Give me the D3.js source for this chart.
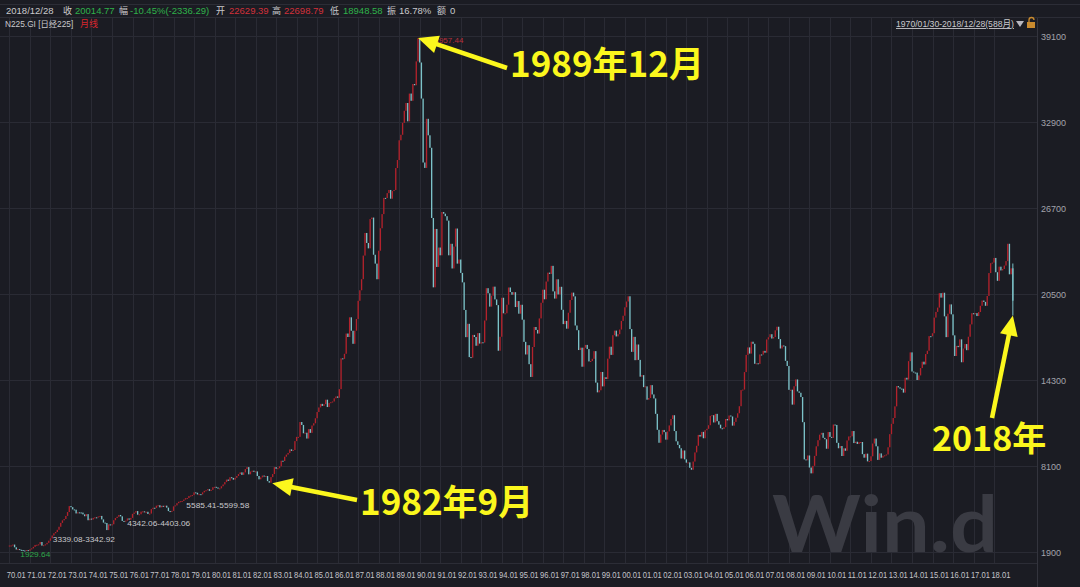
<!DOCTYPE html>
<html><head><meta charset="utf-8">
<script src="https://cdn.jsdelivr.net/npm/d3@7/dist/d3.min.js"></script>
<style>body{margin:0;background:#1b1c23;overflow:hidden}svg{display:block}</style>
</head><body>
<svg id="c" width="1080" height="587"></svg>
<script>
// ---------------- data ----------------
const startYear = 1970;
const xTickLabels = ["70.01","71.01","72.01","73.01","74.01","75.01","76.01","77.01","78.01","79.01",
 "80.01","81.01","82.01","83.01","84.01","85.01","86.01","87.01","88.01","89.01",
 "90.01","91.01","92.01","93.01","94.01","95.01","96.01","97.01","98.01","99.01",
 "00.01","01.01","02.01","03.01","04.01","05.01","06.01","07.01","08.01","09.01",
 "10.01","11.01","12.01","13.01","14.01","15.01","16.01","17.01","18.01"];
const yTicks = [1900, 8100, 14300, 20500, 26700, 32900, 39100];
const firstOpen = 2358;
// monthly closes, Jan..Dec per row
const closes = [
 2367,2370,2435,2240,2080,2110,2060,2040,2010,2000,2035,1987, // 1970
 2090,2160,2270,2410,2420,2450,2620,2360,2390,2450,2560,2714, // 1971
 2880,3090,3250,3340,3500,3720,4000,4180,4280,4500,4780,5208, // 1972
 5130,4970,4950,4680,4760,4750,4740,4610,4480,4630,4190,4307, // 1973
 4240,4360,4400,4390,4460,4500,4250,4020,3990,3480,3890,3817, // 1974
 3900,4190,4350,4440,4570,4470,4140,4110,4160,4320,4230,4359, // 1975
 4650,4740,4850,4590,4620,4810,4830,4770,4800,4640,4670,4991, // 1976
 5090,5080,5240,5270,5120,5230,5200,5240,5100,4850,4810,4866, // 1977
 5190,5260,5420,5520,5560,5580,5680,5780,5790,5940,5970,6002, // 1978
 6200,6170,6050,6070,6050,6200,6310,6350,6430,6310,6380,6570, // 1979
 6600,6550,6470,6490,6640,6770,6940,7120,7030,7290,7240,7116, // 1980
 7250,7380,7520,7640,7460,7640,7880,8019,7500,7700,7760,7682, // 1981
 7710,7380,7140,7280,7410,7360,7380,7010,6900,7300,7520,8017, // 1982
 7900,7940,8080,8480,8460,8770,8920,9040,9300,9190,9250,9894, // 1983
 10200,10200,11270,11060,10460,10500,10080,10760,10490,11020,11180,11543, // 1984
 11990,12320,12580,12430,12560,12880,12350,12650,12700,12750,12980,13113, // 1985
 13020,13640,15860,15825,16190,17650,17400,18820,17850,16910,17852,18701, // 1986
 20010,20770,21570,23270,24900,24180,23790,25900,26010,23330,22690,21564, // 1987
 23620,25240,26260,27430,27420,27770,28000,27370,27920,28000,29580,30159, // 1988
 31580,31980,32840,33710,34270,32950,34950,34430,35640,35550,37270,38916, // 1989
 37190,34590,29980,29590,33130,31940,31040,25980,20980,25190,22450,23849, // 1990
 23290,26410,26290,26110,25790,23290,24120,22340,23920,25220,22690,22984, // 1991
 22020,21340,19350,17390,18350,15950,15910,17550,17400,16770,17680,16925, // 1992
 17020,17000,18590,20920,20550,19590,20380,21030,20110,19700,16410,17417, // 1993
 20230,19110,19110,19730,20970,20640,20450,20630,19560,19990,19080,19723, // 1994
 18650,17050,16140,16810,15440,14520,16680,18120,17910,17650,18740,19868, // 1995
 20810,20120,21400,22040,21950,22530,20690,20170,21560,20470,21020,19361, // 1996
 18330,18560,18000,19150,20070,20600,20330,18230,17890,16460,16630,15259, // 1997
 16630,16830,16530,15640,15670,15830,16380,14110,13410,13560,14880,13842, // 1998
 14500,14370,15840,16700,16110,17530,17860,17440,17600,17940,18560,18934, // 1999
 19540,19960,20337,17970,16330,17410,15730,16860,15750,14540,14650,13786, // 2000
 13840,12880,13000,13930,13260,12970,11860,10710,9775,10370,10700,10543, // 2001
 10000,10590,11025,11490,11760,10620,9880,9620,9380,8640,9220,8579, // 2002
 8340,8360,7970,7830,8420,9080,9560,10340,10220,10560,10100,10677, // 2003
 10780,11040,11715,11760,11240,11860,11330,11080,10820,10770,10900,11489, // 2004
 11390,11740,11670,11010,11280,11580,11900,12410,13570,13610,14870,16111, // 2005
 16650,16205,17060,16910,15470,15505,15460,16140,16130,16400,16270,17226, // 2006
 17380,17600,17290,17400,17880,18140,17250,16570,16790,16740,15680,15308, // 2007
 13590,13600,12525,13850,14340,13480,13380,13070,11260,8577,8510,8860, // 2008
 7990,7570,8110,8830,9520,9960,10360,10490,10130,10030,9345,10546, // 2009
 10200,10130,11090,11060,9770,9380,9540,8820,9370,9200,9940,10229, // 2010
 10240,10620,9755,9850,9690,9820,9830,8955,8700,8990,8435,8455, // 2011
 8800,9720,10080,9520,8540,9010,8700,8840,8870,8930,9450,10395, // 2012
 11140,11560,12400,13860,13770,13680,13670,13390,14460,14330,15660,16291, // 2013
 14910,14840,14830,14300,14630,15160,15620,15420,16170,16410,17460,17451, // 2014
 17670,18800,19210,19520,20560,20240,20590,18890,17390,19080,19750,19034, // 2015
 17520,16030,16760,16670,17230,15580,16570,16890,16450,17420,18310,19114, // 2016
 19040,19120,18910,19200,19650,20030,19930,19650,20360,22010,22720,22765, // 2017
 23100,22070,21450,22470,22200,22300,22550,22870,24120,21920,22351,20015  // 2018
];
const peakHigh = 38957.44, lastLow = 18948.58, lastHigh = 22698.79;
const headerItems = [
 ["2018/12/28","#c9c9cc"],["收","#c9c9cc"],["20014.77","#2fb24a"],["幅","#c9c9cc"],
 ["-10.45%(-2336.29)","#2fb24a"],["开","#c9c9cc"],["22629.39","#d2303a"],["高","#c9c9cc"],
 ["22698.79","#d2303a"],["低","#c9c9cc"],["18948.58","#2fb24a"],["振","#c9c9cc"],
 ["16.78%","#c9c9cc"],["额","#c9c9cc"],["0","#c9c9cc"]];
const headerX = [6,63,75,119,130,216,229,272,284,330,343,387,399,437,450];
const gapLabels = [
 {text:"1929.64", m:4, v:1929.64, color:"#2fa84a", dx:4, dy:5, w:30},
 {text:"3339.08-3342.92", m:57, v:3341, color:"#c8c8cc", dx:-54, dy:10, w:62},
 {text:"4342.06-4403.06", m:66, v:4370, color:"#c8c8cc", dx:5, dy:8, w:63},
 {text:"5585.41-5599.58", m:100, v:5590, color:"#c8c8cc", dx:6, dy:7, w:63}
];
const notes = [
 {text:"1989年12月", m:239, v:peakHigh, tx:507, ty:68, lx:510, ly:77, fs:35},
 {text:"1982年9月", m:152, v:6850, tx:357, ty:500, lx:360, ly:515, fs:35},
 {text:"2018年", m:587, v:lastLow, tx:992, ty:418, lx:932, ly:451, fs:34}
];

// ---------------- drawing ----------------
const W = 1080, H = 587;
const svg = d3.select("#c");
const bg = "#1b1c23", grid = "#2a2b34";
svg.append("rect").attr("width", W).attr("height", H).attr("fill", bg);

const n = closes.length;
const x = d3.scaleBand().domain(d3.range(n)).range([8.4, 1013.9]).padding(0.22);
const y = d3.scaleLinear().domain([1900, 39100]).range([552, 36]);
const cx = m => x(m) + x.bandwidth() / 2;

const plotRight = 1037, plotTop = 18, plotBottom = 563;
const uiFont = "'Liberation Sans', 'Noto Sans CJK SC', sans-serif";

// header lines
svg.append("line").attr("x1",0).attr("x2",W).attr("y1",4.5).attr("y2",4.5).attr("stroke","#2c2d36");
svg.append("line").attr("x1",0).attr("x2",W).attr("y1",17.5).attr("y2",17.5).attr("stroke","#2c2d36");

// grid
const gridG = svg.append("g");
gridG.selectAll("line.h").data(yTicks).join("line")
  .attr("x1", 0).attr("x2", plotRight).attr("y1", d => Math.round(y(d)) + 0.5).attr("y2", d => Math.round(y(d)) + 0.5)
  .attr("stroke", grid).attr("stroke-width", 1);
const janMonths = d3.range(0, n, 12);
gridG.selectAll("line.v").data(janMonths).join("line")
  .attr("x1", d => Math.round(cx(d)) + 0.5).attr("x2", d => Math.round(cx(d)) + 0.5)
  .attr("y1", plotTop).attr("y2", plotBottom).attr("stroke", grid);
svg.append("line").attr("x1", plotRight + 0.5).attr("x2", plotRight + 0.5).attr("y1", plotTop).attr("y2", H)
  .attr("stroke", "#33343d");
svg.append("line").attr("x1", 0).attr("x2", plotRight).attr("y1", plotBottom + 0.5).attr("y2", plotBottom + 0.5)
  .attr("stroke", "#2c2d36");

// watermark
svg.append("text").attr("x", 772).attr("y", 552).text("Win.d")
  .attr("font-family", "Lato, 'Open Sans', sans-serif").attr("font-weight", 700)
  .attr("font-size", 78).attr("fill", "#3a3b43").attr("textLength", 226).attr("lengthAdjust", "spacingAndGlyphs");

// y axis labels
const yAxis = d3.axisRight(y).tickValues(yTicks).tickSize(0).tickPadding(0).tickFormat(d3.format("d"));
const ya = svg.append("g").attr("transform", `translate(1041,0)`).call(yAxis);
ya.select(".domain").remove();
ya.selectAll("text").attr("fill", "#a3a3ab").attr("font-size", 9)
  .attr("font-family", "'Liberation Sans', Arial, sans-serif").attr("dy", "0.35em");

// x axis labels
const xAxis = d3.axisBottom(x).tickValues(janMonths).tickSize(0).tickPadding(0)
  .tickFormat((d, i) => xTickLabels[i]);
const xa = svg.append("g").attr("transform", `translate(0,572)`).call(xAxis);
xa.select(".domain").remove();
xa.selectAll(".tick text").attr("fill", "#c4c4ca").attr("font-size", 8.6)
  .attr("font-family", "'Liberation Sans', Arial, sans-serif")
  .attr("text-anchor", "start").attr("x", -x.bandwidth()/2 - 2).attr("dy", "0.71em")
  .attr("textLength", 19).attr("lengthAdjust", "spacingAndGlyphs");

// candles
const candles = closes.map((c, i) => ({ m: i, o: i === 0 ? firstOpen : closes[i - 1], c }));
const upC = "#b3222c", dnC = "#7cc3c9";
svg.append("g").selectAll("rect").data(candles).join("rect")
  .attr("x", d => x(d.m)).attr("width", x.bandwidth())
  .attr("y", d => y(Math.max(d.o, d.c)))
  .attr("height", d => Math.max(1, Math.abs(y(d.o) - y(d.c))))
  .attr("fill", d => d.c >= d.o ? upC : dnC);
// wicks to the extreme high / low that are marked in the picture
svg.append("line").attr("x1", cx(239)).attr("x2", cx(239)).attr("y1", y(peakHigh)).attr("y2", y(closes[239]))
  .attr("stroke", upC).attr("stroke-width", 1);
svg.append("line").attr("x1", cx(n-1)).attr("x2", cx(n-1)).attr("y1", y(lastHigh)).attr("y2", y(lastLow))
  .attr("stroke", dnC).attr("stroke-width", 1);

// small value labels
svg.append("g").selectAll("text").data(gapLabels).join("text")
  .attr("x", d => cx(d.m) + d.dx).attr("y", d => y(d.v) + d.dy).text(d => d.text)
  .attr("fill", d => d.color).attr("font-size", 8).attr("font-family", "'Liberation Sans', Arial, sans-serif")
  .attr("textLength", d => d.w).attr("lengthAdjust", "spacingAndGlyphs");
svg.append("text").attr("x", cx(239) + 12).attr("y", y(peakHigh) + 5).text("38957.44")
  .attr("fill", "#b8303c").attr("font-size", 8).attr("font-family", "'Liberation Sans', Arial, sans-serif");

// header texts
svg.append("g").selectAll("text").data(headerItems).join("text")
  .attr("x", (d, i) => headerX[i]).attr("y", 14).text(d => d[0]).attr("fill", d => d[1])
  .attr("font-size", d => /^[\u4e00-\u9fff]$/.test(d[0]) ? 9 : 9.5).attr("font-family", uiFont);
svg.append("text").attr("x", 5).attr("y", 27).text("N225.GI [日经225]").attr("fill", "#c9c9cc")
  .attr("font-size", 8.3).attr("font-family", uiFont);
svg.append("text").attr("x", 80).attr("y", 27).text("月线").attr("fill", "#d8262e")
  .attr("font-size", 9).attr("font-family", "'Noto Sans CJK SC', sans-serif");
svg.append("text").attr("x", 896).attr("y", 27).text("1970/01/30-2018/12/28(588月)").attr("fill", "#c9c9cc")
  .attr("font-size", 9).attr("font-family", uiFont)
  .attr("text-decoration", "underline").attr("textLength", 118).attr("lengthAdjust", "spacingAndGlyphs");
svg.append("path").attr("d", "M1016,21 L1024,21 L1020,27 Z").attr("fill", "#b8b8c0");
svg.append("rect").attr("x", 1027).attr("y", 22).attr("width", 8).attr("height", 6).attr("fill", "#c98a2e");
svg.append("path").attr("d", "M1029,22 v-2 a2.5,2.5 0 0 1 5,0").attr("fill", "none").attr("stroke", "#c98a2e").attr("stroke-width", 1.3);

// annotations: arrows + yellow text
const yellow = "#fbf71d";
const ann = svg.append("g");
notes.forEach(d => {
  const hx = cx(d.m) + (d.m === 152 ? 3 : 0), hy = y(d.v);
  const dx = hx - d.tx, dy = hy - d.ty, L = Math.hypot(dx, dy);
  const ux = dx / L, uy = dy / L, headL = 20, headW = 9;
  const bx = hx - ux * headL, by = hy - uy * headL;
  ann.append("line").attr("x1", d.tx).attr("y1", d.ty).attr("x2", bx + ux * 2).attr("y2", by + uy * 2)
    .attr("stroke", yellow).attr("stroke-width", 4.5);
  ann.append("path").attr("d", `M${hx},${hy} L${bx - uy * headW},${by + ux * headW} L${bx + uy * headW},${by - ux * headW} Z`)
    .attr("fill", yellow);
  ann.append("text").attr("x", d.lx).attr("y", d.ly).text(d.text).attr("fill", yellow)
    .attr("font-family", "'Noto Sans CJK SC', sans-serif").attr("font-weight", 700).attr("font-size", d.fs);
});
</script>
</body></html>
